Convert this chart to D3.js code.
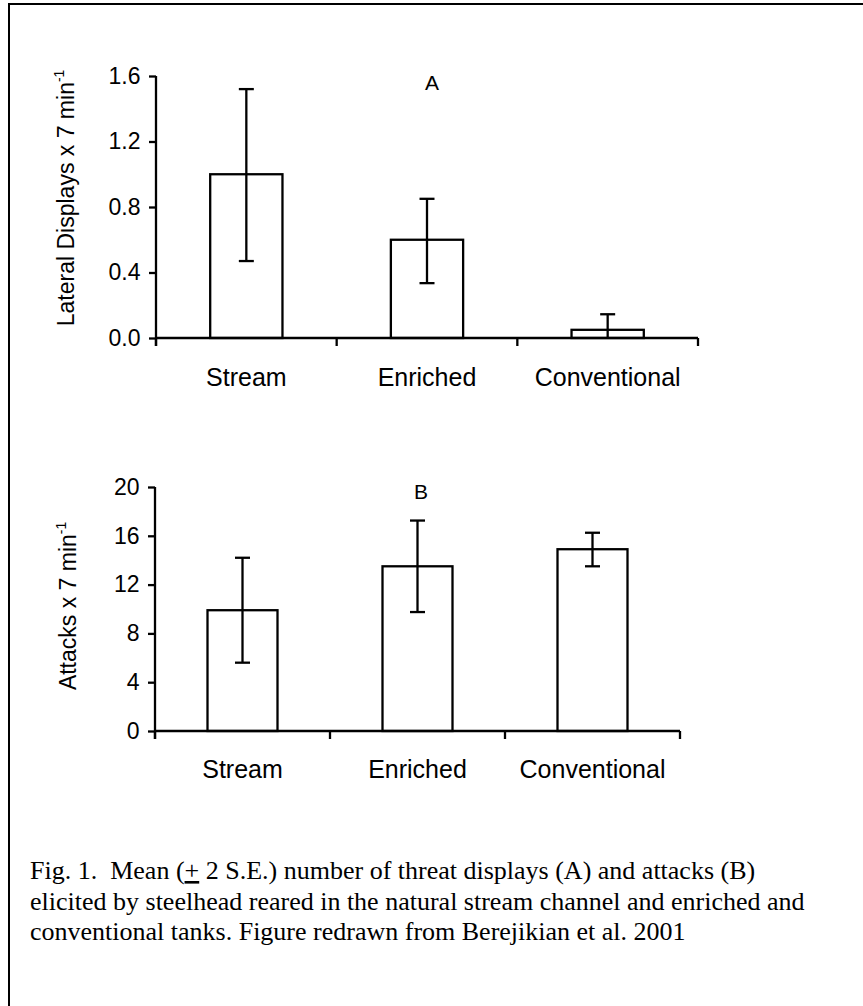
<!DOCTYPE html>
<html>
<head>
<meta charset="utf-8">
<script src="https://cdn.jsdelivr.net/npm/d3@7"></script>
<style>
  html, body { margin: 0; padding: 0; background: #fff; }
  svg { display: block; }
</style>
</head>
<body>
<svg id="chart" width="863" height="1006"></svg>
<script>
// ---- data ----
const categories = ["Stream", "Enriched", "Conventional"];

// Panel A: lateral displays
const displayMeans = [1.0, 0.6, 0.05];
const displayUpper = [1.52, 0.85, 0.145];
const displayLower = [0.47, 0.335, 0.0];
const displayTicks = [0, 0.4, 0.8, 1.2, 1.6];

// Panel B: attacks
const attackMeans = [9.9, 13.5, 14.9];
const attackUpper = [14.2, 17.25, 16.25];
const attackLower = [5.6, 9.75, 13.5];
const attackTicks = [0, 4, 8, 12, 16, 20];

// caption: [before, underlined, after]
const captionLines = [
  ["Fig. 1.  Mean (", "+", " 2 S.E.) number of threat displays (A) and attacks (B)"],
  ["elicited by steelhead reared in the natural stream channel and enriched and"],
  ["conventional tanks. Figure redrawn from Berejikian et al. 2001"]
];

// ---- drawing ----
const svg = d3.select("#chart");
const SW = 2.3;
const sans = "'Liberation Sans', Arial, sans-serif";

// frame
svg.append("path")
  .attr("d", "M9,1010 L9,4 L870,4")
  .attr("fill", "none").attr("stroke", "#000").attr("stroke-width", 2);

function panel(opts) {
  const g = svg.append("g");
  const x = d3.scaleBand().domain(categories).range(opts.xr).paddingInner(0.6).paddingOuter(0.3);
  const xb = d3.scaleBand().domain(categories).range(opts.xr).padding(0);
  const y = d3.scaleLinear().domain([0, opts.max]).range(opts.yr);
  const y0 = y(0);

  // bars
  g.selectAll("rect.bar").data(categories).join("rect")
    .attr("x", d => x(d)).attr("width", x.bandwidth())
    .attr("y", (d, i) => y(opts.means[i]))
    .attr("height", (d, i) => y0 - y(opts.means[i]))
    .attr("fill", "#fff").attr("stroke", "#000").attr("stroke-width", SW);

  // error bars
  const cap = 7.5;
  categories.forEach((c, i) => {
    const cx = x(c) + x.bandwidth() / 2;
    g.append("line").attr("x1", cx).attr("x2", cx)
      .attr("y1", y(opts.upper[i])).attr("y2", y(opts.lower[i]))
      .attr("stroke", "#000").attr("stroke-width", SW);
    g.append("line").attr("x1", cx - cap).attr("x2", cx + cap)
      .attr("y1", y(opts.upper[i])).attr("y2", y(opts.upper[i]))
      .attr("stroke", "#000").attr("stroke-width", SW);
    if (opts.lower[i] > 0) {
      g.append("line").attr("x1", cx - cap).attr("x2", cx + cap)
        .attr("y1", y(opts.lower[i])).attr("y2", y(opts.lower[i]))
        .attr("stroke", "#000").attr("stroke-width", SW);
    }
  });

  // y axis
  const yAxis = d3.axisLeft(y).tickValues(opts.ticks).tickFormat(opts.fmt).tickSize(7).tickPadding(8.5);
  const ya = g.append("g").attr("transform", `translate(${opts.xr[0]},0)`).call(yAxis);
  ya.select(".domain").attr("d", `M0,${opts.yr[1]}V${y0 + 8}`);
  ya.selectAll("line, path").attr("stroke", "#000").attr("stroke-width", SW);
  ya.selectAll("text").attr("font-family", sans).attr("font-size", opts.tickFont).attr("fill", "#000");

  // x axis (ticks at band boundaries)
  const bounds = categories.map(c => xb(c)).concat([opts.xr[1]]);
  const xa = g.append("g").attr("transform", `translate(0,${y0})`);
  xa.append("line").attr("x1", opts.xr[0]).attr("x2", opts.xr[1])
    .attr("stroke", "#000").attr("stroke-width", SW);
  xa.selectAll("line.tk").data(bounds).join("line").attr("class", "tk")
    .attr("x1", d => d).attr("x2", d => d).attr("y1", 0).attr("y2", 8)
    .attr("stroke", "#000").attr("stroke-width", SW);
  xa.selectAll("text").data(categories).join("text")
    .attr("x", d => xb(d) + xb.bandwidth() / 2)
    .attr("y", opts.labelDy)
    .attr("text-anchor", "middle")
    .attr("font-family", sans).attr("font-size", opts.catFont).attr("fill", "#000")
    .text(d => d);

  // panel letter
  g.append("text").attr("x", opts.letterX).attr("y", opts.letterY)
    .attr("text-anchor", "middle").attr("font-family", sans).attr("font-size", 21)
    .text(opts.letter);

  // y title
  const t = g.append("text")
    .attr("transform", `translate(${opts.titleX},${opts.titleY}) rotate(-90)`)
    .attr("text-anchor", "middle")
    .attr("font-family", sans).attr("font-size", opts.titleFont).attr("fill", "#000");
  t.append("tspan").text(opts.title);
  t.append("tspan").attr("font-size", opts.titleFont * 0.6).attr("dy", -opts.titleFont * 0.45).text("-1");
}

panel({
  xr: [156, 698], yr: [338, 76], max: 1.6,
  means: displayMeans, upper: displayUpper, lower: displayLower,
  ticks: displayTicks, fmt: d3.format(".1f"),
  tickFont: 23, catFont: 25, titleFont: 23, labelDy: 48,
  letter: "A", letterX: 432, letterY: 90,
  title: "Lateral Displays x 7 min", titleX: 74, titleY: 198
});

panel({
  xr: [155, 680], yr: [731, 487], max: 20,
  means: attackMeans, upper: attackUpper, lower: attackLower,
  ticks: attackTicks, fmt: d3.format("d"),
  tickFont: 23, catFont: 25, titleFont: 23, labelDy: 47,
  letter: "B", letterX: 421, letterY: 499,
  title: "Attacks x 7 min", titleX: 76, titleY: 606
});

// caption
const capText = svg.append("g")
  .attr("font-family", "'Liberation Serif', 'Times New Roman', serif")
  .attr("font-size", 26).attr("fill", "#000");
captionLines.forEach((parts, i) => {
  const t = capText.append("text").attr("x", 30).attr("y", 879 + i * 30.5)
    .style("white-space", "pre");
  parts.forEach((p, j) => {
    const ts = t.append("tspan").text(p);
    if (j === 1) ts.attr("text-decoration", "underline");
  });
});
</script>
</body>
</html>
